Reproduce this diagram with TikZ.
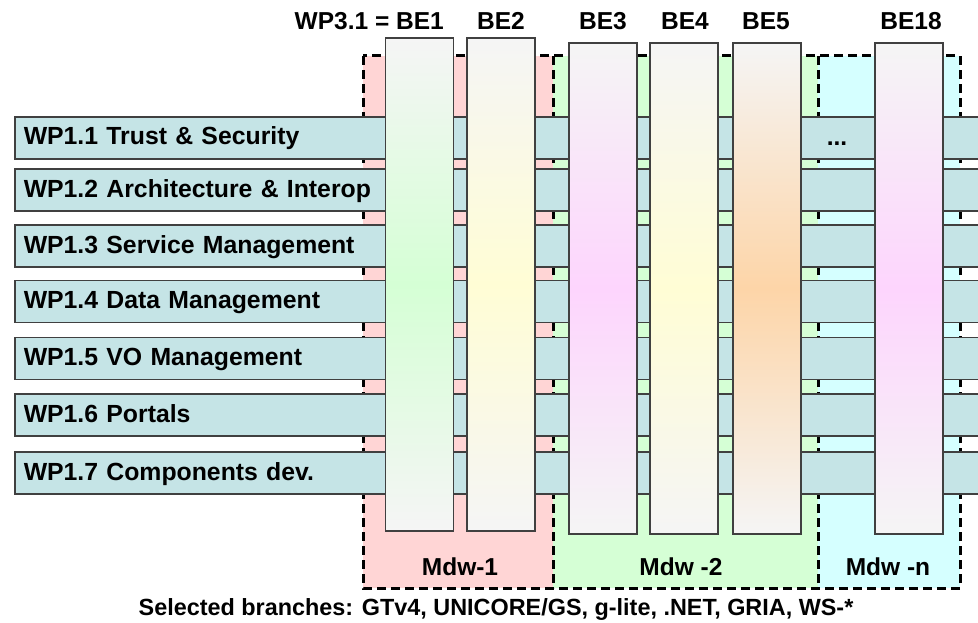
\documentclass[tikz,border=0pt]{standalone}
\usepackage{fontspec}
\setmainfont{Liberation Sans}
\definecolor{mdwred}{RGB}{255, 213, 213}
\definecolor{mdwgreen}{RGB}{213, 255, 213}
\definecolor{mdwcyan}{RGB}{213, 255, 255}
\definecolor{barteal}{RGB}{197, 228, 230}
\definecolor{edgegray}{RGB}{64, 64, 64}
\definecolor{colgray}{RGB}{245, 245, 245}
\definecolor{midgreen}{RGB}{213, 255, 213}
\definecolor{midyellow}{RGB}{255, 253, 213}
\definecolor{midpink}{RGB}{253, 213, 253}
\definecolor{midorange}{RGB}{253, 213, 168}
\usetikzlibrary{positioning}

\begin{document}
\begin{tikzpicture}[x=1pt, y=-1pt,
  wpbar/.style={draw=edgegray, line width=1.5pt, fill=barteal, anchor=west, minimum height=42pt, text width=952pt, align=left, inner xsep=9pt, inner ysep=0pt, text height=18pt, text depth=4pt, font=\fontsize{24.8}{28}\selectfont\bfseries},
  becol/.style={draw=edgegray, line width=1.5pt, minimum width=68pt, inner sep=0pt, top color=colgray, bottom color=colgray},
  mdwline/.style={line width=3pt, dash pattern=on 9pt off 5pt},
  lbl/.style={inner sep=0pt, anchor=base, font=\fontsize{24.5}{28}\selectfont\bfseries}
]
  \useasboundingbox (0,0) rectangle (978,623);
  \clip (0,0) rectangle (978,623);

  % middleware regions
  \fill[mdwred] (363,56) rectangle (553,588);
  \fill[mdwgreen] (553,56) rectangle (818,588);
  \fill[mdwcyan] (818,56) rectangle (960,588);
  \draw[mdwline] (363,56) rectangle (960,588);
  \draw[mdwline] (553,56) -- (553,588);
  \draw[mdwline] (818,56) -- (818,588);

  % WP1 rows
  \node[wpbar] (wp11) at (14, 138) {WP1.1 Trust \& Security};
  \node[wpbar] (wp12) at (14, 190) {WP1.2 Architecture \& Interop};
  \node[wpbar] (wp13) at (14, 246) {WP1.3 Service Management};
  \node[wpbar] (wp14) at (14, 301.5) {WP1.4 Data Management};
  \node[wpbar] (wp15) at (14, 358.5) {WP1.5 VO Management};
  \node[wpbar] (wp16) at (14, 415) {WP1.6 Portals};
  \node[wpbar] (wp17) at (14, 473) {WP1.7 Components dev.};
  \node[lbl] (dots) at (837, 146) {...};

  % branch columns
  \node[becol, minimum height=493pt, middle color=midgreen] (be1) at (419.5, 284.5) {};
  \node[becol, minimum height=493pt, middle color=midyellow] (be2) at (501, 284.5) {};
  \node[becol, minimum height=491pt, middle color=midpink] (be3) at (603, 288.5) {};
  \node[becol, minimum height=491pt, middle color=midyellow] (be4) at (684, 288.5) {};
  \node[becol, minimum height=491pt, middle color=midorange] (be5) at (767, 288.5) {};
  \node[becol, minimum height=491pt, middle color=midpink] (be18) at (909, 288.5) {};

  \node[lbl, anchor=base east] (be1lbl) at (444, 29.5) {WP3.1 = BE1};
  \node[lbl] (be2lbl) at (501, 29.5) {BE2};
  \node[lbl] (be3lbl) at (603, 29.5) {BE3};
  \node[lbl] (be4lbl) at (685, 29.5) {BE4};
  \node[lbl] (be5lbl) at (766, 29.5) {BE5};
  \node[lbl] (be18lbl) at (911, 29.5) {BE18};

  \node[lbl] (mdw1) at (460, 575) {Mdw-1};
  \node[lbl] (mdw2) at (681, 575) {Mdw -2};
  \node[lbl] (mdwn) at (888, 575) {Mdw -n};

  \node[lbl, font=\fontsize{23.4}{27}\selectfont\bfseries] (branches) at (496, 615) {Selected branches: GTv4, UNICORE/GS, g-lite, .NET, GRIA, WS-*};
\end{tikzpicture}
\end{document}
